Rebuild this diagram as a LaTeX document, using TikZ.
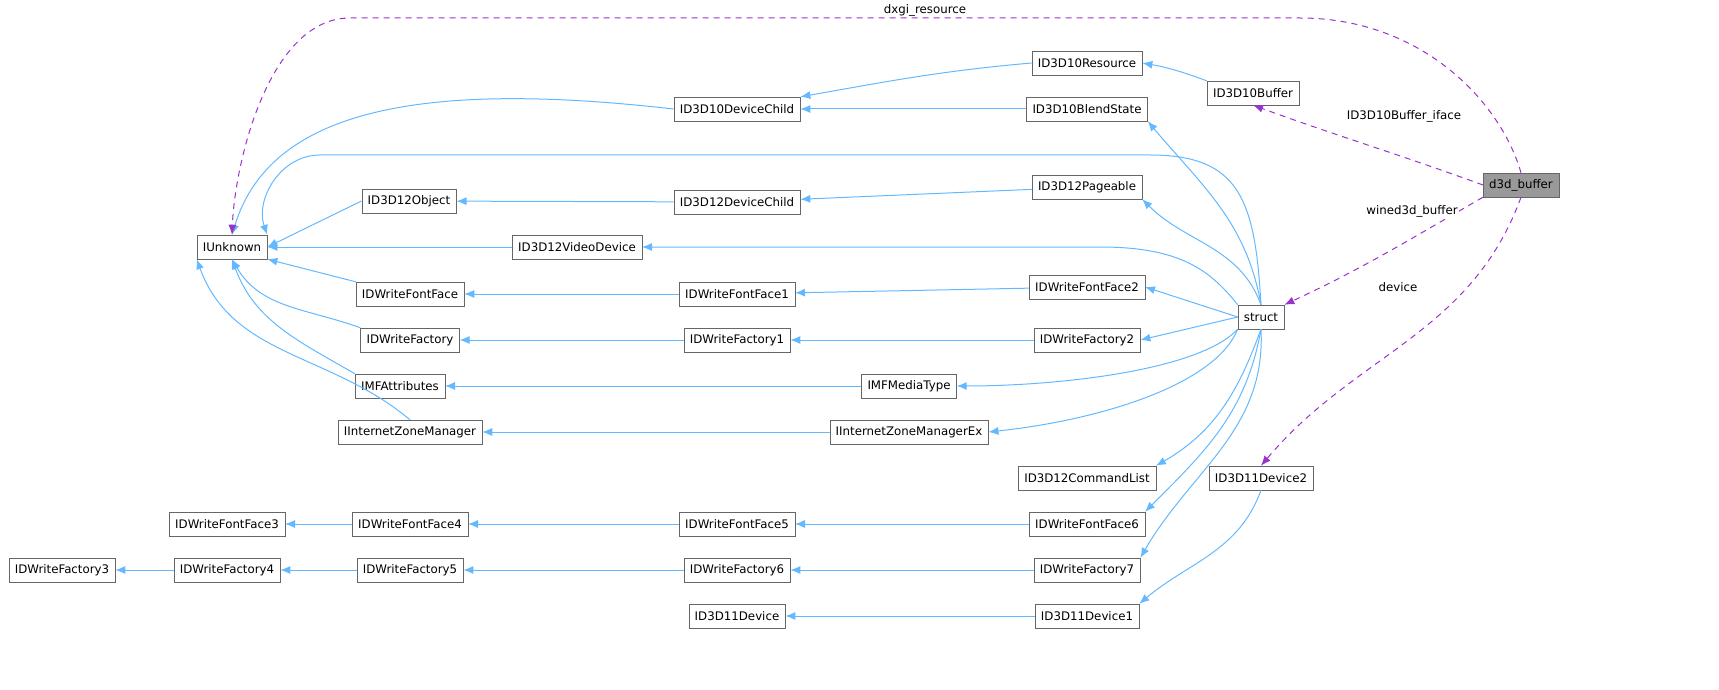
\documentclass[tikz,border=0pt]{standalone}
\usepackage{fontspec}
\setmainfont{DejaVu Sans}
\usetikzlibrary{arrows.meta}
\definecolor{inhc}{HTML}{63B8FF}
\definecolor{usec}{HTML}{9A32CD}
\begin{document}
\begin{tikzpicture}[x=1pt,y=-1pt,
  cls/.style={draw=black!60, fill=white, minimum height=24pt, inner xsep=6pt, inner ysep=0pt, font=\fontsize{11.8}{13}\selectfont},
  inh/.style={draw=inhc, line width=1pt, -{Latex[length=10pt,width=8pt]}},
  use/.style={draw=usec, line width=1pt, dash pattern=on 6pt off 5pt, -{Latex[length=10pt,width=8pt]}},
  lbl/.style={font=\fontsize{11.8}{13}\selectfont, fill=white, inner sep=1pt}]
\useasboundingbox (0,0) rectangle (1719,690);
\node[cls, fill=black!40] (d3d) at (1521,185) {d3d\_buffer};
\node[cls] (b10) at (1253,93) {ID3D10Buffer};
\node[cls] (r10) at (1087,63) {ID3D10Resource};
\node[cls] (bs10) at (1087,109) {ID3D10BlendState};
\node[cls] (dc10) at (737,109) {ID3D10DeviceChild};
\node[cls] (pg12) at (1087,187) {ID3D12Pageable};
\node[cls] (dc12) at (737,202) {ID3D12DeviceChild};
\node[cls] (ob12) at (409,201) {ID3D12Object};
\node[cls] (iu) at (232,247) {IUnknown};
\node[cls] (vd12) at (577,247) {ID3D12VideoDevice};
\node[cls] (ff) at (410,294) {IDWriteFontFace};
\node[cls] (ff1) at (737,294) {IDWriteFontFace1};
\node[cls] (ff2) at (1087,287) {IDWriteFontFace2};
\node[cls] (fa) at (410,340) {IDWriteFactory};
\node[cls] (fa1) at (737,340) {IDWriteFactory1};
\node[cls] (fa2) at (1087,340) {IDWriteFactory2};
\node[cls] (st) at (1261,317) {struct};
\node[cls] (mfa) at (400,386) {IMFAttributes};
\node[cls] (mft) at (909,386) {IMFMediaType};
\node[cls] (izm) at (410,432) {IInternetZoneManager};
\node[cls] (izx) at (909,432) {IInternetZoneManagerEx};
\node[cls] (cl12) at (1087,478) {ID3D12CommandList};
\node[cls] (d112) at (1261,478) {ID3D11Device2};
\node[cls] (ff3) at (227,524) {IDWriteFontFace3};
\node[cls] (ff4) at (410,524) {IDWriteFontFace4};
\node[cls] (ff5) at (737,524) {IDWriteFontFace5};
\node[cls] (ff6) at (1087,524) {IDWriteFontFace6};
\node[cls] (fa3) at (62,570) {IDWriteFactory3};
\node[cls] (fa4) at (227,570) {IDWriteFactory4};
\node[cls] (fa5) at (410,570) {IDWriteFactory5};
\node[cls] (fa6) at (737,570) {IDWriteFactory6};
\node[cls] (fa7) at (1087,570) {IDWriteFactory7};
\node[cls] (d11) at (737,616) {ID3D11Device};
\node[cls] (d111) at (1087,616) {ID3D11Device1};

\draw[inh] (b10.north west) to[out=160,in=-10] (r10.east);
\draw[inh] (r10.west) to[out=185,in=10] (dc10.north east);
\draw[inh] (bs10) -- (dc10);
\draw[inh] (dc10.west) .. controls (420,80) and (270,110) .. (iu.north);
\draw[inh] (st.north) to[out=100,in=-50] (bs10.south east);
\draw[inh] (st.north) .. controls (1255,200) and (1240,155) .. (1150,155) -- (320,155) .. controls (280,155) and (255,200) .. (iu.north east);
\draw[inh] (st.north) to[out=110,in=-45] (pg12.south east);
\draw[inh] (pg12) -- (dc12);
\draw[inh] (dc12) -- (ob12);
\draw[inh] (ob12.west) -- (iu.east);
\draw[inh] (st.north west) .. controls (1210,270) and (1180,247) .. (1100,247) -- (vd12.east);
\draw[inh] (vd12) -- (iu);
\draw[inh] (ff.north west) -- (iu.south east);
\draw[inh] (ff1) -- (ff);
\draw[inh] (ff2) -- (ff1);
\draw[inh] (st.west) -- (ff2.east);
\draw[inh] (fa.north west) to[out=160,in=-60] (iu.south);
\draw[inh] (fa1) -- (fa);
\draw[inh] (fa2) -- (fa1);
\draw[inh] (st.west) -- (fa2.east);
\draw[inh] (mfa.north west) to[out=150,in=-70] (iu.south);
\draw[inh] (mft) -- (mfa);
\draw[inh] (st.south west) .. controls (1200,370) and (1060,386) .. (mft.east);
\draw[inh] (izm.north) to[out=140,in=-70] (iu.south west);
\draw[inh] (izx) -- (izm);
\draw[inh] (st.south west) .. controls (1215,385) and (1100,420) .. (izx.east);
\draw[inh] (st.south) to[out=-110,in=30] (cl12.north east);
\draw[inh] (st.south) to[out=-100,in=45] (ff6.north east);
\draw[inh] (st.south) to[out=-87,in=60] (fa7.north east);
\draw[inh] (ff6) -- (ff5);
\draw[inh] (ff5) -- (ff4);
\draw[inh] (ff4) -- (ff3);
\draw[inh] (fa7) -- (fa6);
\draw[inh] (fa6) -- (fa5);
\draw[inh] (fa5) -- (fa4);
\draw[inh] (fa4) -- (fa3);
\draw[inh] (d112.south) to[out=-110,in=40] (d111.north east);
\draw[inh] (d111) -- (d11);

\draw[use] (d3d.north) .. controls (1500,100) and (1420,18) .. (1300,18) -- (350,18) .. controls (270,18) and (235,160) .. (iu.north);
\node[lbl] at (925,10) {dxgi\_resource};
\draw[use] (d3d.west) to[out=160,in=-20] (b10.south);
\node[lbl] at (1404,116) {ID3D10Buffer\_iface};
\draw[use] (d3d.south west) to[out=-150,in=25] (st.north east);
\node[lbl] at (1412,211) {wined3d\_buffer};
\draw[use] (d3d.south) to[out=-110,in=50] (d112.north);
\node[lbl] at (1398,287) {device};
\end{tikzpicture}
\end{document}
